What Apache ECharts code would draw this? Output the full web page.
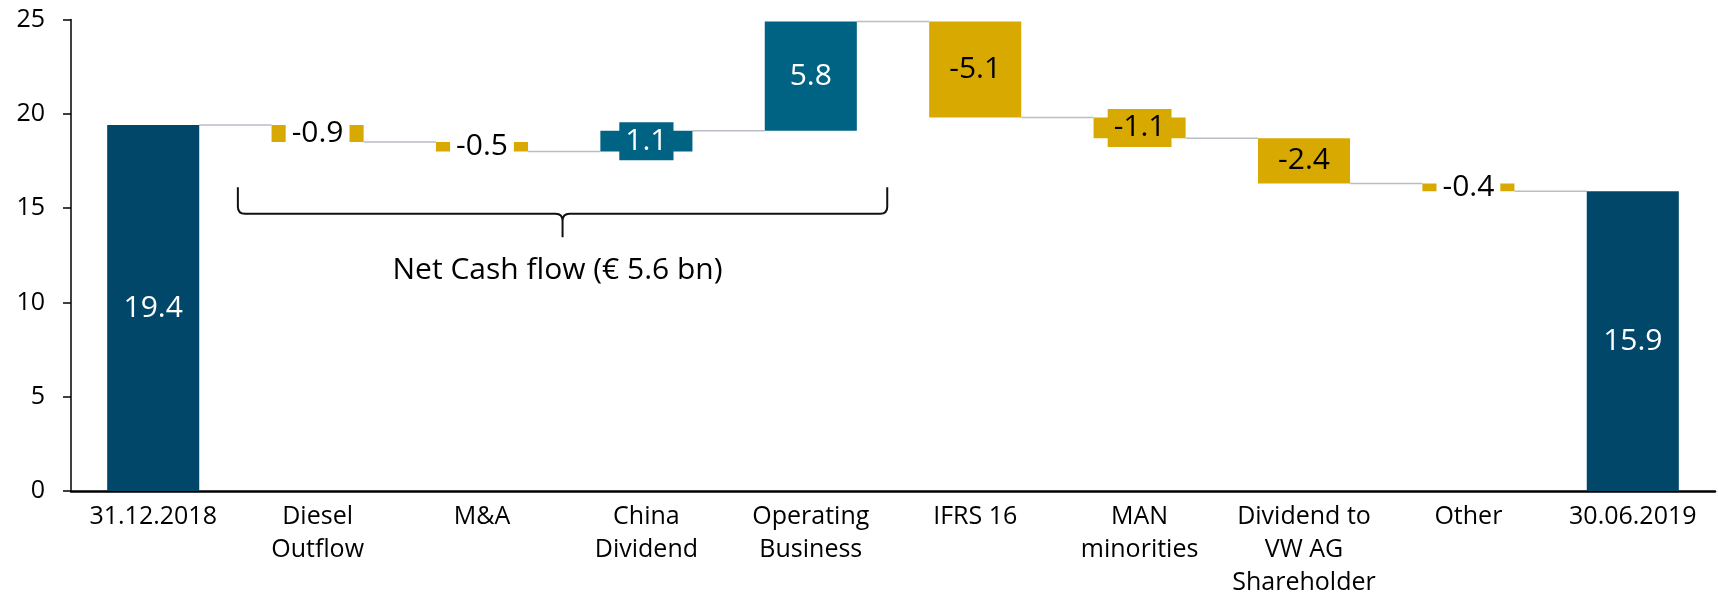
<!DOCTYPE html>
<html>
<head>
<meta charset="utf-8">
<script src="https://cdn.jsdelivr.net/npm/echarts@6/dist/echarts.min.js"></script>
<style>
html,body{margin:0;padding:0;background:#fff;}
#chart{width:1718px;height:592px;}
</style>
</head>
<body>
<div id="chart"></div>
<script>
// ---- data ----
const categories = ['31.12.2018', 'Diesel\nOutflow', 'M&A', 'China\nDividend', 'Operating\nBusiness', 'IFRS 16', 'MAN\nminorities', 'Dividend to\nVW AG\nShareholder', 'Other', '30.06.2019'];
const values = [19.4, -0.9, -0.5, 1.1, 5.8, -5.1, -1.1, -2.4, -0.4, 15.9];
const isTotal = [true, false, false, false, false, false, false, false, false, true];
const yTicks = [0, 5, 10, 15, 20, 25];
const braceLabel = 'Net Cash flow (€ 5.6 bn)';
const braceFrom = 1, braceTo = 4; // category indices spanned by brace

// ---- styles ----
const FONT = 'Open Sans';
const C_TOTAL = '#00476a';
const C_POS = '#006384';
const C_NEG = '#d8a900';

// ---- derived waterfall geometry (from data) ----
const base = [], height = [], levels = [];
let run = 0;
values.forEach((v, i) => {
  if (isTotal[i]) {
    base.push(0); height.push(v); run = v;
  } else {
    const next = Math.round((run + v) * 10) / 10;
    base.push(Math.min(run, next)); height.push(Math.abs(v)); run = next;
  }
  levels.push(run);
});

const barData = values.map((v, i) => {
  const color = isTotal[i] ? C_TOTAL : (v >= 0 ? C_POS : C_NEG);
  const small = Math.abs(v) < 1;
  const txt = (v < 0 ? '-' : '') + Math.abs(v).toFixed(1);
  return {
    value: height[i],
    itemStyle: { color: color },
    label: {
      show: true,
      position: 'inside',
      formatter: txt,
      fontFamily: FONT,
      fontSize: 30,
      lineHeight: 30,
      color: (small || color === C_NEG) ? '#000' : '#fff',
      backgroundColor: small ? '#fff' : (isTotal[i] ? 'transparent' : color),
      padding: small ? [0, 6] : [4, 6]
    }
  };
});

const connData = [];
for (let i = 0; i < values.length - 1; i++) connData.push([i, levels[i]]);

const chart = echarts.init(document.getElementById('chart'));
chart.setOption({
  animation: false,
  backgroundColor: '#fff',
  grid: { left: 71, right: 3, top: 19.5, bottom: 101, containLabel: false, outerBoundsMode: 'none' },
  xAxis: {
    type: 'category',
    data: categories,
    axisLine: { lineStyle: { color: '#000', width: 2.5 } },
    axisTick: { show: false },
    axisLabel: { interval: 0, fontFamily: FONT, fontSize: 25, lineHeight: 33, color: '#000', margin: 9 }
  },
  yAxis: {
    type: 'value',
    min: yTicks[0], max: yTicks[yTicks.length - 1], interval: 5,
    axisLine: { show: true, lineStyle: { color: '#000', width: 1.5 } },
    axisTick: { show: true, length: 8, lineStyle: { color: '#000', width: 1.5 } },
    splitLine: { show: false },
    axisLabel: { fontFamily: FONT, fontSize: 25, color: '#000', margin: 26 }
  },
  series: [
    {
      type: 'custom',
      z: 1,
      silent: true,
      data: connData,
      renderItem: function (params, api) {
        const i = api.value(0), lvl = api.value(1);
        const bw = api.size([1, 0])[0];
        const p1 = api.coord([i, lvl]);
        const p2 = api.coord([i + 1, lvl]);
        return {
          type: 'line',
          shape: { x1: p1[0] + bw * 0.28, y1: p1[1], x2: p2[0] - bw * 0.28, y2: p2[1] },
          style: { stroke: '#b9bdc4', lineWidth: 1.5 }
        };
      }
    },
    {
      type: 'bar', stack: 'w', barWidth: '56%', z: 2, silent: true,
      itemStyle: { color: 'transparent' },
      data: base
    },
    {
      type: 'bar', stack: 'w', barWidth: '56%', z: 2, silent: true,
      data: barData
    },
    {
      type: 'custom',
      z: 3,
      silent: true,
      clip: false,
      data: [[braceFrom, braceTo]],
      renderItem: function (params, api) {
        const bw = api.size([1, 0])[0];
        const xl = api.coord([braceFrom, 0])[0] - bw * 0.485;
        const xr = api.coord([braceTo, 0])[0] + bw * 0.465;
        const xc = (xl + xr) / 2;
        const yt = api.coord([0, 16.1])[1];
        const yl = api.coord([0, 14.7])[1];
        const yb = api.coord([0, 13.45])[1];
        const ty = api.coord([0, 11.7])[1];
        const r = 7;
        const d = 'M' + xl + ' ' + yt + ' L' + xl + ' ' + (yl - r) +
          ' Q' + xl + ' ' + yl + ' ' + (xl + r) + ' ' + yl +
          ' L' + (xc - r) + ' ' + yl +
          ' Q' + xc + ' ' + yl + ' ' + xc + ' ' + (yl + r) +
          ' L' + xc + ' ' + yb +
          ' M' + xc + ' ' + (yl + r) +
          ' Q' + xc + ' ' + yl + ' ' + (xc + r) + ' ' + yl +
          ' L' + (xr - r) + ' ' + yl +
          ' Q' + xr + ' ' + yl + ' ' + xr + ' ' + (yl - r) +
          ' L' + xr + ' ' + yt;
        return {
          type: 'group',
          children: [
            { type: 'path', shape: { pathData: d }, style: { fill: 'none', stroke: '#111', lineWidth: 2 } },
            { type: 'text', x: xc - 5, y: ty, style: { text: braceLabel, fontFamily: FONT, fontSize: 30, fill: '#000', align: 'center', verticalAlign: 'middle' } }
          ]
        };
      }
    }
  ]
});
</script>
</body>
</html>
